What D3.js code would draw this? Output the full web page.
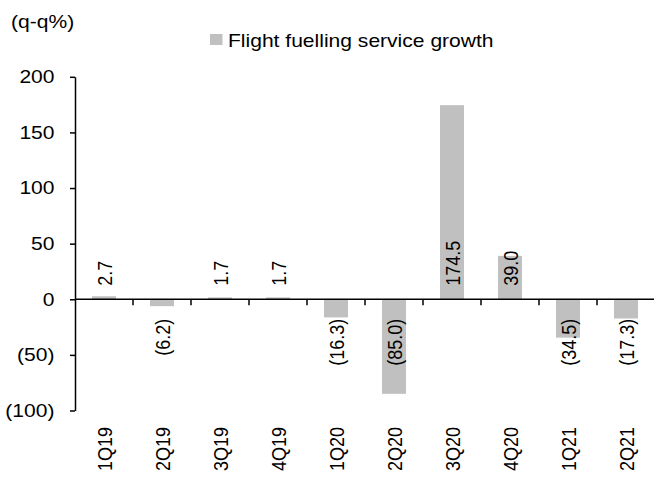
<!DOCTYPE html>
<html>
<head>
<meta charset="utf-8">
<script src="https://cdn.jsdelivr.net/npm/d3@7"></script>
<style>
  html, body { margin: 0; padding: 0; background: #fff; }
  svg { display: block; }
  text { font-family: "Liberation Sans", Arial, sans-serif; fill: #000; }
</style>
</head>
<body>
<svg id="chart" width="654" height="477"></svg>
<script>
// Quarterly growth of flight fuelling service (q-q %)
const quarters = ["1Q19", "2Q19", "3Q19", "4Q19", "1Q20", "2Q20", "3Q20", "4Q20", "1Q21", "2Q21"];
const growth = [2.7, -6.2, 1.7, 1.7, -16.3, -85.0, 174.5, 39.0, -34.5, -17.3];
const yTicks = [-100, -50, 0, 50, 100, 150, 200];
const seriesName = "Flight fuelling service growth";
const unitLabel = "(q-q%)";

const W = 654, H = 477;
const FONT = 18;      // font size
const SX = 1.17;      // horizontal text stretch

const svg = d3.select("#chart");

const x = d3.scaleBand()
  .domain(quarters)
  .range([75, 655])
  .paddingInner(0.586)
  .paddingOuter(0.293);

const y = d3.scaleLinear()
  .domain([-100, 200])
  .range([410.5, 76.8]);

const fmt = v => v < 0 ? "(" + d3.format(".1f")(-v) + ")" : d3.format(".1f")(v);
const fmtTick = v => v < 0 ? "(" + (-v) + ")" : String(v);

// bars
svg.append("g")
  .selectAll("rect")
  .data(quarters.map((q, i) => ({ q, v: growth[i] })))
  .join("rect")
  .attr("x", d => x(d.q))
  .attr("width", x.bandwidth())
  .attr("y", d => y(Math.max(0, d.v)))
  .attr("height", d => Math.abs(y(d.v) - y(0)))
  .attr("fill", "#c0c0c0");

// y axis
const yAxis = svg.append("g")
  .attr("transform", "translate(75,0)")
  .call(d3.axisLeft(y).tickValues(yTicks).tickFormat(fmtTick).tickSize(5).tickSizeOuter(0));
yAxis.select(".domain").attr("stroke", "#000").attr("stroke-width", 1.5);
yAxis.selectAll(".tick line").attr("stroke", "#000").attr("stroke-width", 1.5);
yAxis.selectAll(".tick text")
  .attr("x", -20.5 / SX)
  .attr("transform", `scale(${SX},1)`)
  .style("font-size", FONT + "px")
  .style("font-family", '"Liberation Sans", Arial, sans-serif')
  .attr("fill", "#000");

// x axis line at zero with category boundary ticks
const y0 = y(0);
svg.append("line")
  .attr("x1", 75).attr("x2", W)
  .attr("y1", y0).attr("y2", y0)
  .attr("stroke", "#000").attr("stroke-width", 1.5);
svg.append("g")
  .selectAll("line")
  .data(d3.range(1, quarters.length + 1))
  .join("line")
  .attr("x1", i => x.range()[0] + i * x.step())
  .attr("x2", i => x.range()[0] + i * x.step())
  .attr("y1", y0).attr("y2", y0 + 6)
  .attr("stroke", "#000").attr("stroke-width", 1.5);

// category labels (rotated)
svg.append("g")
  .selectAll("text")
  .data(quarters)
  .join("text")
  .attr("transform", q => `translate(${x(q) + x.bandwidth() / 2 + 1},427) scale(${SX},1) rotate(-90)`)
  .attr("text-anchor", "end")
  .attr("dy", "0.35em")
  .style("font-size", FONT + "px")
  .text(q => q);

// value labels (rotated)
svg.append("g")
  .selectAll("text")
  .data(quarters.map((q, i) => ({ q, v: growth[i] })))
  .join("text")
  .attr("transform", d => `translate(${x(d.q) + x.bandwidth() / 2 + 1},${d.v >= 0 ? y0 - 13.5 : y0 + 19.5}) scale(${SX},1) rotate(-90)`)
  .attr("text-anchor", d => d.v >= 0 ? "start" : "end")
  .attr("dy", "0.35em")
  .style("font-size", FONT + "px")
  .text(d => fmt(d.v));

// unit label
svg.append("text")
  .attr("transform", `translate(11,28) scale(${SX},1)`)
  .style("font-size", FONT + "px")
  .text(unitLabel);

// legend
const lg = svg.append("g");
lg.append("rect")
  .attr("x", 210).attr("y", 34)
  .attr("width", 12.5).attr("height", 11)
  .attr("fill", "#c0c0c0");
lg.append("text")
  .attr("transform", `translate(228,47) scale(${SX},1)`)
  .style("font-size", FONT + "px")
  .text(seriesName);
</script>
</body>
</html>
